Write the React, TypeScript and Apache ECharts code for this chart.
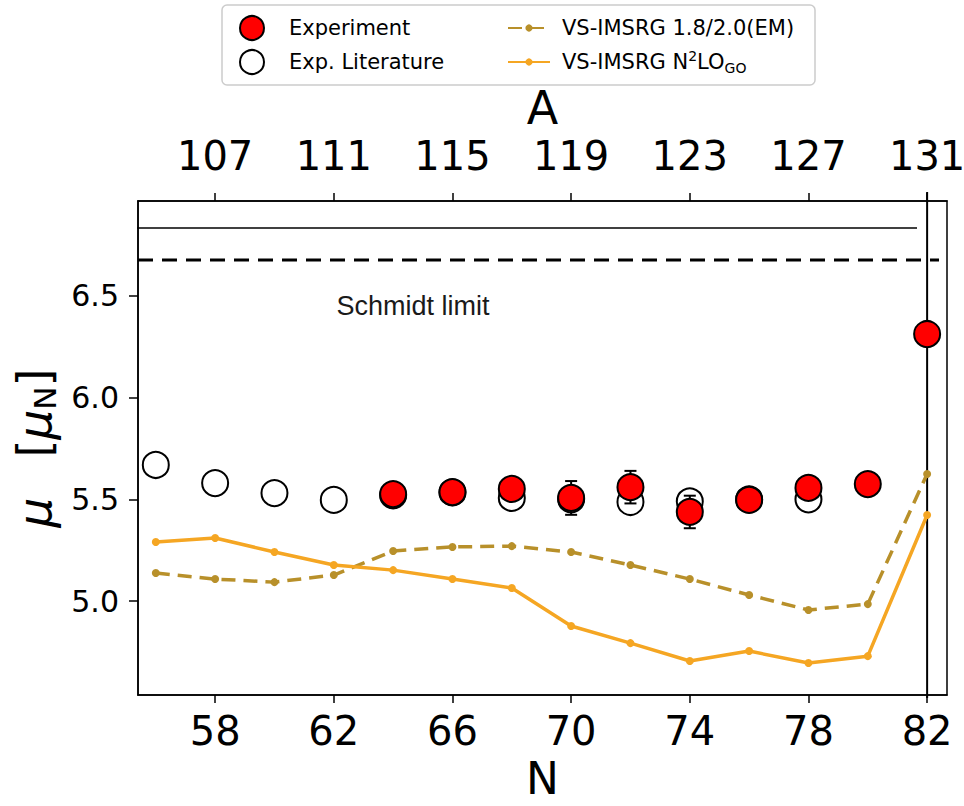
import React, { useEffect, useRef } from "react";
import * as echarts from "echarts";

// ---- data ----
const Z_PROTONS = 49; // A = N + 49
const N_TICKS = [58, 62, 66, 70, 74, 78, 82];
const A_TICKS = [107, 111, 115, 119, 123, 127, 131];
const MU_TICKS = [5.0, 5.5, 6.0, 6.5];

const N_LIT = [56, 58, 60, 62, 64, 66, 68, 70, 72, 74, 76, 78];
const MU_LIT = [5.669, 5.58, 5.531, 5.497, 5.52, 5.534, 5.507, 5.5, 5.487, 5.49, 5.5, 5.5];

const N_EXP = [64, 66, 68, 70, 72, 74, 76, 78, 80, 82];
const MU_EXP = [5.526, 5.536, 5.551, 5.507, 5.56, 5.438, 5.497, 5.556, 5.575, 6.313];
const ERR_EXP = [0.02, 0.02, 0.02, 0.083, 0.08, 0.08, 0.02, 0.02, 0.02, 0.02];

const N_THEORY = [56, 58, 60, 62, 64, 66, 68, 70, 72, 74, 76, 78, 80, 82];
const MU_EM = [5.138, 5.108, 5.093, 5.128, 5.246, 5.266, 5.27, 5.241, 5.177, 5.108, 5.03, 4.956, 4.985, 5.625];
const MU_GO = [5.29, 5.31, 5.241, 5.177, 5.152, 5.108, 5.064, 4.877, 4.793, 4.705, 4.754, 4.695, 4.729, 5.423];

const UPPER_LINE_MU = 6.834;
const SCHMIDT_MU = 6.677;
const UPPER_LINE_N = [55.35, 81.66];
const SCHMIDT_LINE_N = [55.4, 82.4];
const MAGIC_N = 82;
const MAGIC_LINE_MU = [4.523, 7.011];

const X_MIN = 55.4;
const X_MAX = 82.67;
const Y_MIN = 4.538;
const Y_MAX = 6.967;

const NAME_EXP = "Experiment";
const NAME_LIT = "Exp. Literature";
const NAME_EM = "VS-IMSRG 1.8/2.0(EM)";
const NAME_GO = "VS-IMSRG N2LOGO";

const FONT = "DejaVu Sans";
const EM_COLOR = "#b8902a";
const GO_COLOR = "#f5a623";

export default function App() {
  const ref = useRef<HTMLDivElement>(null);

  useEffect(() => {
    if (!ref.current) return;
    const chart = echarts.init(ref.current, null, { renderer: "svg" });

    const xTickLabel = { fontFamily: FONT, fontSize: 40, color: "#000" };
    const legendText = { fontFamily: FONT, fontSize: 21, lineHeight: 26, color: "#000" };

    const option = {
      animation: false,
      backgroundColor: "#fff",
      grid: {
        left: 138,
        right: 17,
        top: 201,
        bottom: 111,
        containLabel: false,
        outerBoundsMode: "none",
        show: true,
        borderColor: "#000",
        borderWidth: 1.5,
        backgroundColor: "transparent",
      },
      legend: [
        {
          orient: "vertical",
          left: 239,
          top: 15,
          padding: 0,
          itemWidth: 44,
          itemHeight: 24,
          itemGap: 8,
          selectedMode: false,
          data: [NAME_EXP, NAME_LIT],
          textStyle: { ...legendText, padding: [0, 0, 0, 10] },
        },
        {
          orient: "vertical",
          left: 507,
          top: 15,
          padding: 0,
          itemWidth: 42,
          itemHeight: 9,
          itemGap: 8,
          selectedMode: false,
          data: [NAME_EM, NAME_GO],
          formatter: (name: string) =>
            name === NAME_GO ? "{t|VS-IMSRG N}{sup|2}{t|LO}{sub|GO}" : "{t|" + name + "}",
          textStyle: {
            ...legendText,
            padding: [0, 0, 0, 7],
            rich: {
              t: { ...legendText },
              sup: { fontFamily: FONT, fontSize: 14, lineHeight: 14, verticalAlign: "top", color: "#000" },
              sub: { fontFamily: FONT, fontSize: 14, lineHeight: 11, verticalAlign: "bottom", color: "#000" },
            },
          },
        },
      ],
      graphic: [
        {
          type: "rect",
          z: 0,
          shape: { x: 222, y: 5, width: 593, height: 80, r: 5 },
          style: { fill: "#fff", stroke: "#cccccc", lineWidth: 1.5 },
        },
        {
          type: "text",
          z: 10,
          x: 413,
          y: 306,
          style: {
            text: "Schmidt limit",
            fontFamily: "Liberation Sans",
            fontSize: 27,
            fill: "#1a1a1a",
            align: "center",
            verticalAlign: "middle",
          },
        },
      ],
      xAxis: [
        {
          type: "value",
          position: "bottom",
          min: X_MIN,
          max: X_MAX,
          name: "N",
          nameLocation: "middle",
          nameGap: 65,
          nameTextStyle: { fontFamily: FONT, fontSize: 44, lineHeight: 36, color: "#000" },
          axisLine: { show: true, lineStyle: { color: "#000", width: 1.5 } },
          axisTick: { show: true, inside: false, length: 8, customValues: N_TICKS, lineStyle: { color: "#000", width: 1.5 } },
          axisLabel: { ...xTickLabel, margin: 16, customValues: N_TICKS, formatter: (v: number) => String(v) },
          splitLine: { show: false },
        },
        {
          type: "value",
          position: "top",
          min: X_MIN + Z_PROTONS,
          max: X_MAX + Z_PROTONS,
          name: "A",
          nameLocation: "middle",
          nameGap: 65,
          nameTextStyle: { fontFamily: FONT, fontSize: 46, color: "#000" },
          axisLine: { show: true, lineStyle: { color: "#000", width: 1.5 } },
          axisTick: { show: true, inside: false, length: 8, customValues: A_TICKS, lineStyle: { color: "#000", width: 1.5 } },
          axisLabel: { ...xTickLabel, margin: 25, customValues: A_TICKS, formatter: (v: number) => String(v) },
          splitLine: { show: false },
        },
      ],
      yAxis: {
        type: "value",
        min: Y_MIN,
        max: Y_MAX,
        name: "{i|μ}{g| }{t|[}{i|μ}{s|N}{t|]}",
        nameLocation: "middle",
        nameGap: 76,
        nameRotate: 90,
        nameTextStyle: {
          fontFamily: FONT,
          fontSize: 46,
          color: "#000",
          rich: {
            i: { fontFamily: FONT, fontSize: 47, fontStyle: "italic", lineHeight: 52, color: "#000" },
            g: { fontFamily: FONT, fontSize: 46, width: 40, lineHeight: 52 },
            t: { fontFamily: FONT, fontSize: 46, lineHeight: 52, color: "#000" },
            s: { fontFamily: FONT, fontSize: 31, lineHeight: 32, verticalAlign: "bottom", color: "#000" },
          },
        },
        axisLine: { show: true, lineStyle: { color: "#000", width: 1.5 } },
        axisTick: { show: true, inside: false, length: 9, customValues: MU_TICKS, lineStyle: { color: "#000", width: 1.5 } },
        axisLabel: {
          fontFamily: FONT,
          fontSize: 30,
          color: "#000",
          margin: 19,
          customValues: MU_TICKS,
          formatter: (v: number) => v.toFixed(1),
        },
        splitLine: { show: false },
      },
      series: [
        {
          name: "upper",
          type: "line",
          silent: true,
          symbol: "none",
          clip: false,
          data: UPPER_LINE_N.map((n) => [n, UPPER_LINE_MU]),
          lineStyle: { color: "#000", width: 1.5 },
          z: 1,
        },
        {
          name: "schmidt",
          type: "line",
          silent: true,
          symbol: "none",
          clip: false,
          data: SCHMIDT_LINE_N.map((n) => [n, SCHMIDT_MU]),
          lineStyle: { color: "#000", width: 3, type: [15, 9] },
          z: 1,
        },
        {
          name: "magic",
          type: "line",
          silent: true,
          symbol: "none",
          clip: false,
          data: MAGIC_LINE_MU.map((m) => [MAGIC_N, m]),
          lineStyle: { color: "#000", width: 2 },
          z: 1,
        },
        {
          name: NAME_EM,
          type: "line",
          symbol: "circle",
          symbolSize: 8,
          data: N_THEORY.map((n, i) => [n, MU_EM[i]]),
          itemStyle: { color: EM_COLOR },
          lineStyle: { color: EM_COLOR, width: 3.5, type: [14, 8] },
          z: 2,
        },
        {
          name: NAME_GO,
          type: "line",
          symbol: "circle",
          symbolSize: 8,
          data: N_THEORY.map((n, i) => [n, MU_GO[i]]),
          itemStyle: { color: GO_COLOR },
          lineStyle: { color: GO_COLOR, width: 3.5 },
          z: 2,
        },
        {
          name: NAME_LIT,
          type: "scatter",
          symbol: "circle",
          symbolSize: 26,
          data: N_LIT.map((n, i) => [n, MU_LIT[i]]),
          itemStyle: { color: "#fff", borderColor: "#000", borderWidth: 2, opacity: 1 },
          z: 3,
        },
        {
          name: "errors",
          type: "custom",
          silent: true,
          data: N_EXP.map((n, i) => [n, MU_EXP[i], ERR_EXP[i]]),
          encode: { x: 0, y: 1 },
          renderItem: (params: any, api: any) => {
            const x = api.value(0);
            const y = api.value(1);
            const e = api.value(2);
            const top = api.coord([x, y + e]);
            const bot = api.coord([x, y - e]);
            const hw = 6;
            const st = { stroke: "#000", lineWidth: 2 };
            return {
              type: "group",
              children: [
                { type: "line", shape: { x1: top[0], y1: top[1], x2: bot[0], y2: bot[1] }, style: st },
                { type: "line", shape: { x1: top[0] - hw, y1: top[1], x2: top[0] + hw, y2: top[1] }, style: st },
                { type: "line", shape: { x1: bot[0] - hw, y1: bot[1], x2: bot[0] + hw, y2: bot[1] }, style: st },
              ],
            };
          },
          z: 4,
        },
        {
          name: NAME_EXP,
          type: "scatter",
          symbol: "circle",
          symbolSize: 26,
          data: N_EXP.map((n, i) => [n, MU_EXP[i]]),
          itemStyle: { color: "#ff0000", borderColor: "#000", borderWidth: 2, opacity: 1 },
          z: 5,
        },
      ],
    };

    chart.setOption(option as any);
    return () => chart.dispose();
  }, []);

  return (
    <div
      ref={ref}
      style={{ position: "fixed", left: 0, top: 0, width: 964, height: 806, background: "#fff" }}
    />
  );
}
